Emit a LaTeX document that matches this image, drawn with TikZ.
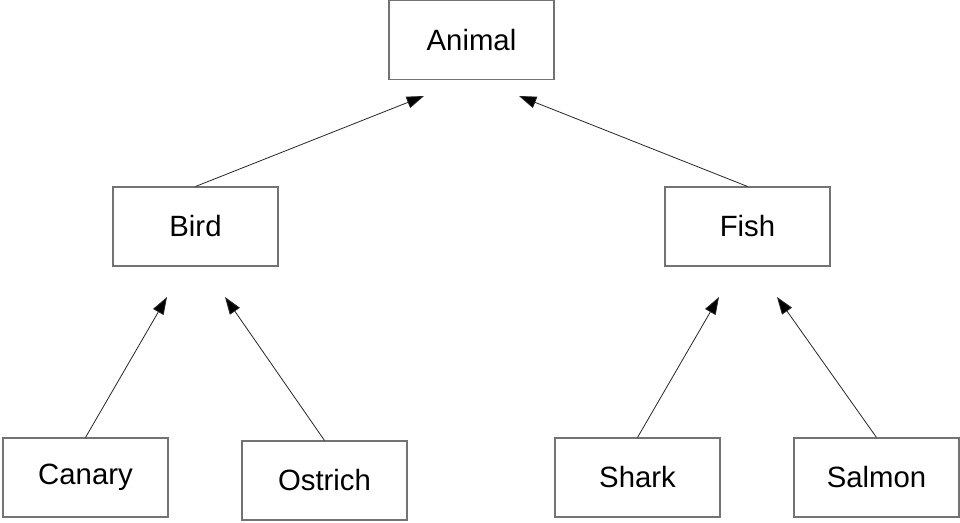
\documentclass[tikz,border=0pt]{standalone}
\usepackage{fontspec}
\setmainfont{Liberation Sans}
\usetikzlibrary{arrows.meta}
\begin{document}
\begin{tikzpicture}[x=0.75pt,y=-0.75pt,
  box/.style={draw=black!55, line width=0.8pt, minimum width=123.75pt, minimum height=59.25pt, inner sep=0pt, font=\fontsize{22}{26}\selectfont, fill=white},
  link/.style={draw=black!85, line width=0.6pt, -{Triangle[length=13pt,width=9pt,fill=black]}}]
\useasboundingbox (0,0) rectangle (960,522);
\node[box] (animal) at (471.5,40) {Animal};
\node[box] (bird) at (195.5,226.5) {Bird};
\node[box] (fish) at (747.5,226.5) {Fish};
\node[box] (canary) at (85.5,477.5) {Canary};
\node[box] (ostrich) at (324.5,480.5) {Ostrich};
\node[box] (shark) at (637.5,477.5) {Shark};
\node[box] (salmon) at (876.5,477.5) {Salmon};
\coordinate (a1) at (424,96);
\coordinate (a2) at (519,96);
\coordinate (b1) at (167,297);
\coordinate (b2) at (225,297);
\coordinate (f1) at (719,297);
\coordinate (f2) at (777,297);
\draw[link] (bird.north) -- (a1);
\draw[link] (fish.north) -- (a2);
\draw[link] (canary.north) -- (b1);
\draw[link] (ostrich.north) -- (b2);
\draw[link] (shark.north) -- (f1);
\draw[link] (salmon.north) -- (f2);
\end{tikzpicture}
\end{document}
